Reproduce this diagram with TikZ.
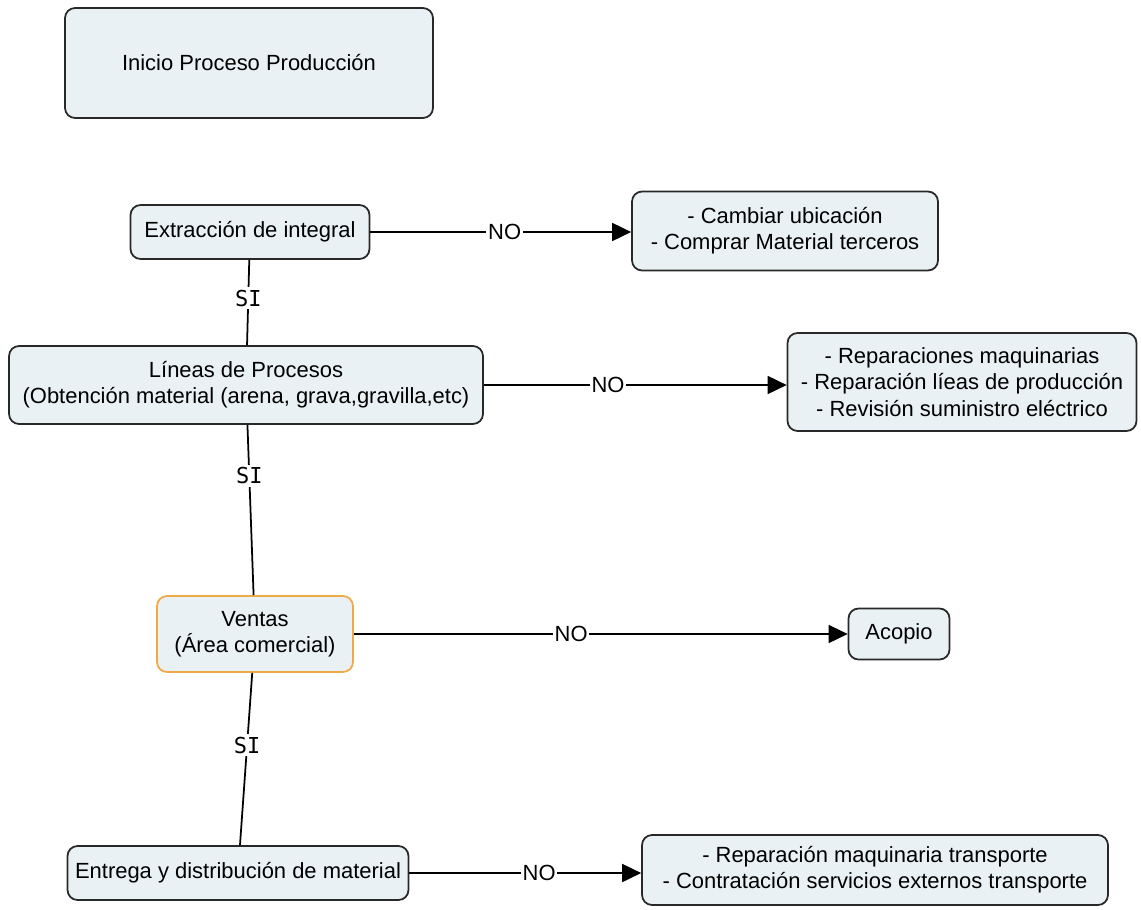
\documentclass[tikz,border=0pt]{standalone}
\usepackage{fontspec}
\setmainfont{Liberation Sans}
\newfontfamily\simono{DejaVu Sans Mono}
\usepackage{tikz}
\usetikzlibrary{arrows.meta, positioning}
\definecolor{boxfill}{RGB}{234,241,244}
\definecolor{boxline}{RGB}{40,40,40}
\definecolor{ventasorange}{RGB}{238,170,70}

\begin{document}
\begin{tikzpicture}[x=0.02cm, y=-0.02cm,
		caja/.style={draw=boxline, fill=boxfill, line width=1pt, rounded corners=0.2cm, align=center, inner sep=0pt, font=\fontsize{12.5}{15}\selectfont},
		flecha/.style={line width=1pt, -{Triangle[length=0.38cm, width=0.36cm]}},
		linea/.style={line width=1pt},
		etiq/.style={fill=white, inner sep=1pt, font=\fontsize{12.5}{15}\selectfont},
		etiqsi/.style={fill=white, inner sep=1.5pt, font=\simono\fontsize{12.5}{14}\selectfont}]
	\useasboundingbox (0,0) rectangle (1141,909);
	
	% main column
	\node[caja, minimum width=7.36cm, minimum height=2.2cm] (inicio) at (249,63) {Inicio Proceso Producción};
	\node[caja, minimum width=4.78cm, minimum height=1.08cm] (extrac) at (250,232) {Extracción de integral};
	\node[caja, minimum width=9.48cm, minimum height=1.56cm] (lineas) at (246,385) {Líneas de Procesos\\(Obtención material (arena, grava,gravilla,etc)};
	\node[caja, draw=ventasorange, minimum width=3.92cm, minimum height=1.52cm] (ventas) at (255,634) {Ventas\\(Área comercial)};
	\node[caja, minimum width=6.82cm, minimum height=1.08cm] (entrega) at (238,873) {Entrega y distribución de material};
	
	% right column
	\node[caja, minimum width=6.12cm, minimum height=1.58cm] (cambiar) at (785,231) {- Cambiar ubicación\\- Comprar Material terceros};
	\node[caja, minimum width=6.98cm, minimum height=1.96cm] (repar) at (962,382) {- Reparaciones maquinarias\\- Reparación líeas de producción\\- Revisión suministro eléctrico};
	\node[caja, minimum width=2.02cm, minimum height=1.02cm] (acopio) at (899,634) {Acopio};
	\node[caja, minimum width=9.32cm, minimum height=1.4cm] (transp) at (875,870) {- Reparación maquinaria transporte\\- Contratación servicios externos transporte};
	
	\draw[linea] (extrac) -- node[etiqsi, pos=0.45] {SI} (lineas);
	\draw[linea] (lineas) -- node[etiqsi, pos=0.3] {SI} (ventas);
	\draw[linea] (ventas) -- node[etiqsi, pos=0.42] {SI} (entrega);
	
	\draw[flecha] (extrac.east) -- node[etiq, pos=0.515] {NO} (extrac.east -| cambiar.west);
	\draw[flecha] (lineas.east) -- node[etiq, pos=0.41] {NO} (lineas.east -| repar.west);
	\draw[flecha] (ventas.east) -- node[etiq, pos=0.44] {NO} (ventas.east -| acopio.west);
	\draw[flecha] (entrega.east) -- node[etiq, pos=0.56] {NO} (entrega.east -| transp.west);
\end{tikzpicture}
\end{document}
